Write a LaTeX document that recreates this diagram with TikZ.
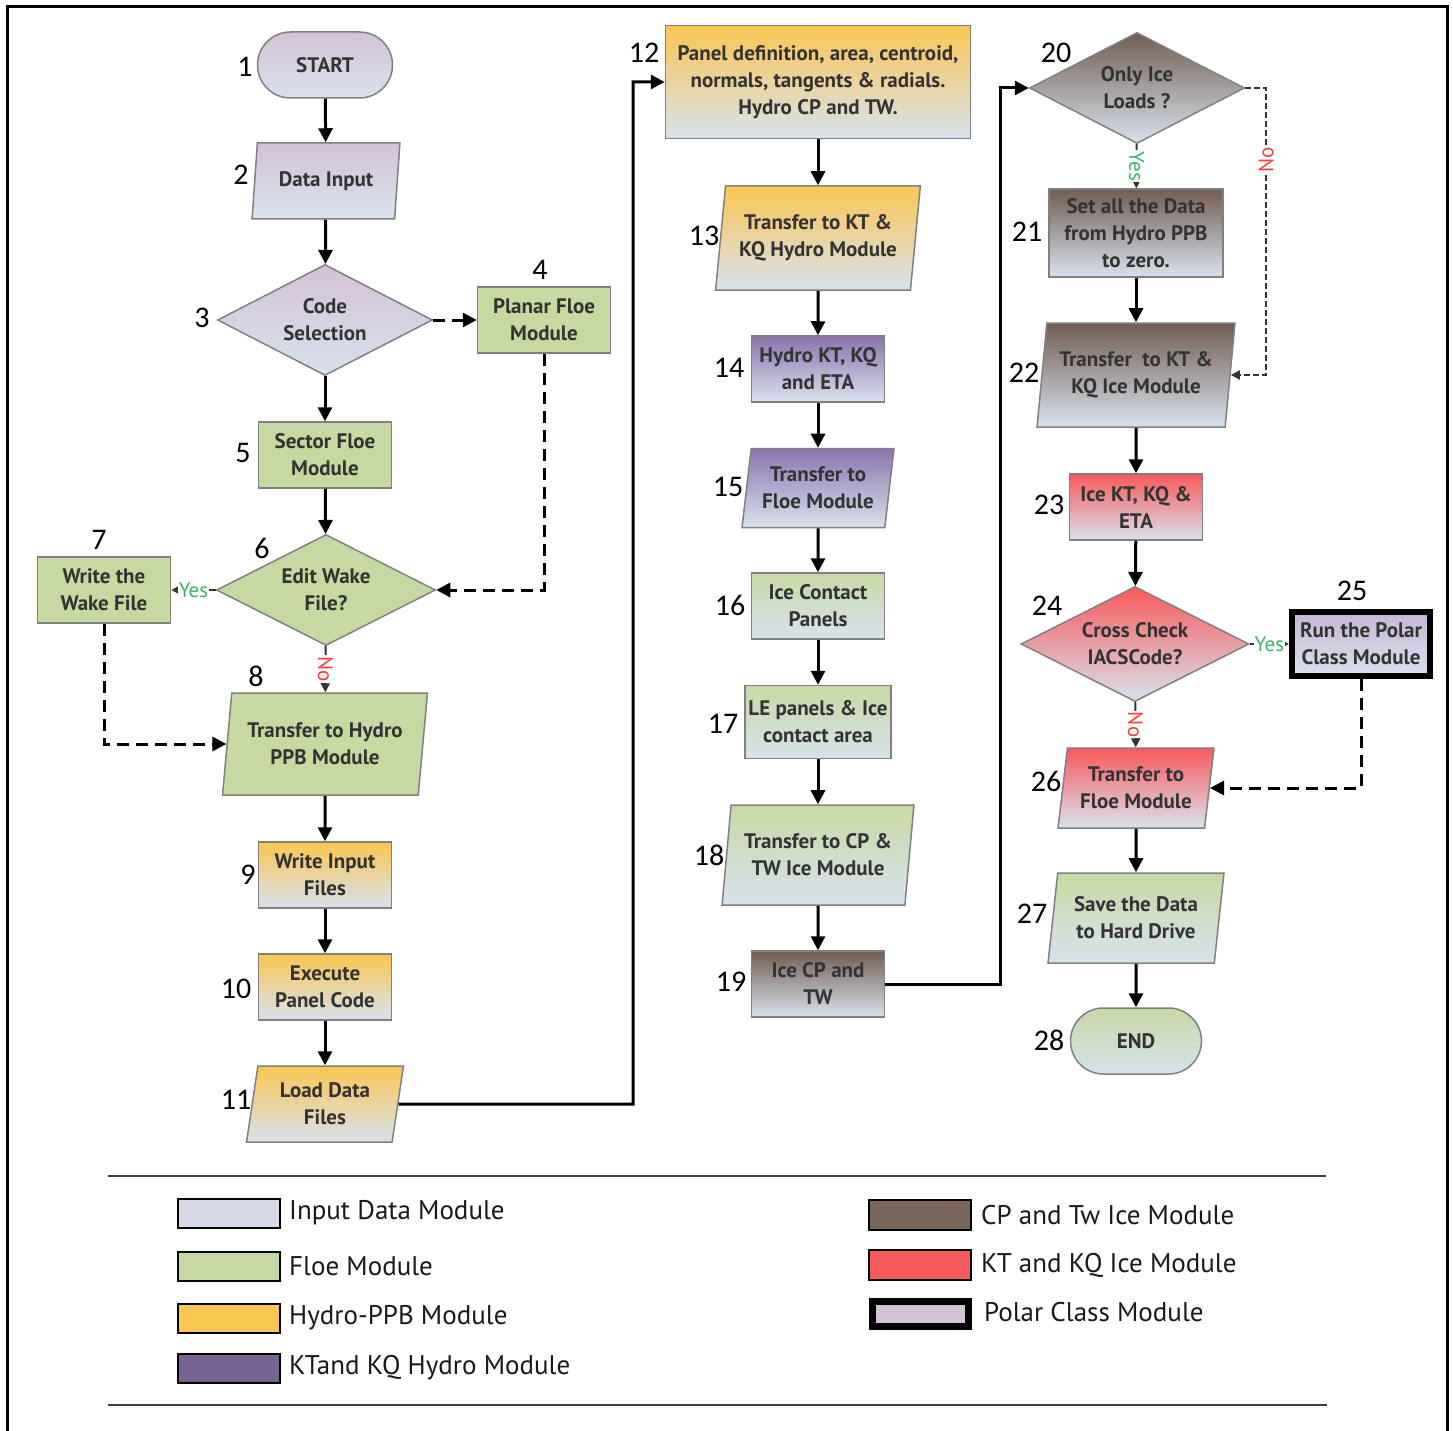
\documentclass[tikz,border=0pt]{standalone}
\usepackage{fontspec}
\setmainfont{PT Sans}
\newfontfamily\numfont{Carlito}
\usetikzlibrary{shapes.geometric,arrows.meta}
\definecolor{pale}{HTML}{D8E2EE}
\definecolor{lilac}{HTML}{D4C2D7}
\definecolor{floeG}{HTML}{C7D9A3}
\definecolor{orangeT}{HTML}{FAC652}
\definecolor{purpT}{HTML}{8B74AC}
\definecolor{brownT}{HTML}{735D51}
\definecolor{redT}{HTML}{F85A5B}
\definecolor{polarT}{HTML}{C6B6D6}
\definecolor{yesG}{HTML}{3DB36B}
\definecolor{noR}{HTML}{FF3B3B}
\begin{document}
\begin{tikzpicture}[x=1pt,y=-1pt,
    box/.style={draw=gray, line width=1.5pt, align=center, text=black!80,
        font=\bfseries\fontsize{21}{27}\selectfont, inner sep=1pt},
    proc/.style={box, rectangle, minimum width=133pt, minimum height=66pt},
    io/.style={box, trapezium, trapezium left angle=80, trapezium right angle=100,
        trapezium stretches=true},
    dec/.style={box, diamond, aspect=2, inner sep=0pt},
    term/.style={box, rectangle, rounded corners=33pt, minimum width=135pt, minimum height=66pt},
    inp/.style={top color=lilac, bottom color=pale},
    floe/.style={fill=floeG},
    floeg/.style={top color=floeG, bottom color=pale},
    hydro/.style={top color=orangeT, bottom color=pale},
    ktkq/.style={top color=purpT, bottom color=pale},
    cptw/.style={top color=brownT, bottom color=pale},
    ice/.style={top color=redT, bottom color=pale},
    polar/.style={proc, top color=polarT, bottom color=pale, draw=black, line width=6pt,
        minimum width=138pt, minimum height=64pt},
    num/.style={font=\numfont\fontsize{30}{30}\selectfont, inner sep=0pt},
    flow/.style={-{Triangle[length=14pt,width=14pt]}, line width=3pt},
    dflow/.style={flow, dash pattern=on 12pt off 7pt},
    yn/.style={-{Triangle[length=9pt,width=9pt]}, line width=2pt, black!80},
    dyn/.style={yn, dash pattern=on 6pt off 3pt},
    yes/.style={text=yesG, fill=white, inner sep=1pt, font=\fontsize{21}{21}\selectfont},
    no/.style={text=noR, fill=white, inner sep=1pt, font=\fontsize{21}{21}\selectfont},
    legtxt/.style={anchor=west, text=black!90, font=\fontsize{27}{27}\selectfont, inner sep=0pt}]
    \useasboundingbox (0,0) rectangle (1453,1431);
    \draw[line width=3pt] (7,1440) |- (1447,7) -- (1447,1440);

    % first column
    \node[term, inp] (start) at (325,65) {START};
    \node[io, inp, minimum width=148pt, minimum height=76pt] (input) at (326,181) {Data Input};
    \node[dec, inp, minimum width=215pt, minimum height=111pt] (codesel) at (325,320) {Code\\Selection};
    \node[proc, floe] (planar) at (544,320) {Planar Floe\\Module};
    \node[proc, floe] (sector) at (325,455) {Sector Floe\\Module};
    \node[dec, floe, minimum width=219pt, minimum height=111pt] (editwake) at (326,590) {Edit Wake\\File?};
    \node[proc, floe] (wake) at (104,590) {Write the\\Wake File};
    \node[io, floe, minimum width=205pt, minimum height=102pt] (tohydro) at (325,744) {Transfer to Hydro\\PPB Module};
    \node[proc, hydro] (writein) at (325,875) {Write Input\\Files};
    \node[proc, hydro] (exec) at (325,987) {Execute\\Panel Code};
    \node[io, hydro, minimum width=157pt, minimum height=76pt] (load) at (325,1104) {Load Data\\Files};

    % second column
    \node[proc, hydro, minimum width=305pt, minimum height=113pt] (panel) at (818,82) {Panel definition, area, centroid,\\normals, tangents \& radials.\\Hydro CP and TW.};
    \node[io, hydro, minimum width=205pt, minimum height=104pt] (toktkq) at (818,238) {Transfer to KT \&\\KQ Hydro Module};
    \node[proc, ktkq] (hydroeta) at (818,369) {Hydro KT, KQ\\and ETA};
    \node[io, ktkq, minimum width=152pt, minimum height=79pt] (tofloe) at (818,488) {Transfer to\\Floe Module};
    \node[proc, floeg] (contact) at (818,606) {Ice Contact\\Panels};
    \node[proc, floeg, minimum width=146pt, minimum height=73pt] (lepanels) at (818,722) {LE panels \& Ice\\contact area};
    \node[io, floeg, minimum width=192pt, minimum height=100pt] (tocptw) at (818,855) {Transfer to CP \&\\TW Ice Module};
    \node[proc, cptw] (icecp) at (818,984) {Ice CP and\\TW};

    % third column
    \node[dec, cptw, minimum width=215pt, minimum height=111pt] (onlyice) at (1137,88) {Only Ice\\Loads ?};
    \node[proc, cptw, minimum width=174pt, minimum height=88pt] (setzero) at (1136,233) {Set all the Data\\from Hydro PPB\\to zero.};
    \node[io, cptw, minimum width=198pt, minimum height=104pt] (toice) at (1136,375) {Transfer\ \ to KT \&\\KQ Ice Module};
    \node[proc, ice] (iceeta) at (1136,507) {Ice KT, KQ \&\\ETA};
    \node[dec, ice, minimum width=228pt, minimum height=115pt] (cross) at (1135,644) {Cross Check\\IACSCode?};
    \node[polar] (polarcl) at (1361,644) {Run the Polar\\Class Module};
    \node[io, ice, minimum width=156pt, minimum height=80pt] (tofloeice) at (1136,788) {Transfer to\\Floe Module};
    \node[io, floeg, minimum width=176pt, minimum height=90pt] (save) at (1136,918) {Save the Data\\to Hard Drive};
    \node[term, floeg, minimum width=131pt] (end) at (1136,1041) {END};

    % step numbers
    \foreach \n/\x/\y in {1/245/67, 2/241/175, 3/202/318, 4/540/270, 5/243/453, 6/262/548,
        7/99/540, 8/256/676, 9/248/875, 10/236/989, 11/236/1100, 12/644/53, 13/704/236,
        14/729/368, 15/728/487, 16/730/605, 17/723/724, 18/709/855, 19/731/982,
        20/1056/53, 21/1027/232, 22/1024/373, 23/1049/505, 24/1047/606, 25/1352/591,
        26/1046/781, 27/1032/914, 28/1049/1040}
        \node[num] (num\n) at (\x,\y) {\n};

    % connectors
    \coordinate (bendA) at (633,1104);
    \coordinate (bendB) at (1000,984);
    \coordinate (bendC) at (1266,88);
    \draw[flow] (start) -- (input);
    \draw[flow] (input) -- (codesel);
    \draw[flow] (codesel) -- (sector);
    \draw[flow] (sector) -- (editwake);
    \draw[dflow] (codesel) -- (planar);
    \draw[dflow] (planar) |- (editwake);
    \draw[yn] (editwake) -- node[yes]{Yes} (wake);
    \draw[yn] (editwake) -- node[no, rotate=-90]{No} (tohydro);
    \draw[dflow] (wake) |- (tohydro);
    \draw[flow] (tohydro) -- (writein);
    \draw[flow] (writein) -- (exec);
    \draw[flow] (exec) -- (load);
    \draw[flow] (load) -- (bendA) |- (panel);
    \draw[flow] (panel) -- (toktkq);
    \draw[flow] (toktkq) -- (hydroeta);
    \draw[flow] (hydroeta) -- (tofloe);
    \draw[flow] (tofloe) -- (contact);
    \draw[flow] (contact) -- (lepanels);
    \draw[flow] (lepanels) -- (tocptw);
    \draw[flow] (tocptw) -- (icecp);
    \draw[flow] (icecp) -- (bendB) |- (onlyice);
    \draw[yn] (onlyice) -- node[yes, rotate=-90]{Yes} (setzero);
    \draw[dyn] (onlyice) -- (bendC) |- node[no, rotate=90, pos=0.125]{No} (toice);
    \draw[flow] (setzero) -- (toice);
    \draw[flow] (toice) -- (iceeta);
    \draw[flow] (iceeta) -- (cross);
    \draw[yn] (cross) -- node[yes]{Yes} (polarcl);
    \draw[yn] (cross) -- node[no, rotate=-90]{No} (tofloeice);
    \draw[dflow] (polarcl) |- (tofloeice);
    \draw[flow] (tofloeice) -- (save);
    \draw[flow] (save) -- (end);

    % legend
    \draw[line width=1.5pt, black!75] (108,1176) -- (1326,1176);
    \draw[line width=1.5pt, black!75] (108,1405) -- (1327,1405);
    \foreach \y/\c/\t in {1213/pale!70!lilac/Input Data Module, 1266/floeG/Floe Module,
        1318/orangeT/Hydro-PPB Module, 1368/purpT!85!black/KTand KQ Hydro Module}
        {\draw[fill=\c, line width=1.5pt] (178,\y-14) rectangle (280,\y+15);
         \node[legtxt] at (289,\y) {\t};}
    \foreach \y/\c/\t in {1215/brownT!95!white/CP and Tw Ice Module, 1265/redT/KT and KQ Ice Module}
        {\draw[fill=\c, line width=1.5pt] (869,\y-15) rectangle (971,\y+15);
         \node[legtxt] at (981,\y) {\t};}
    \draw[fill=lilac, line width=7pt] (872,1301) rectangle (968,1326);
    \node[legtxt] at (984,1312) {Polar Class Module};
\end{tikzpicture}
\end{document}
